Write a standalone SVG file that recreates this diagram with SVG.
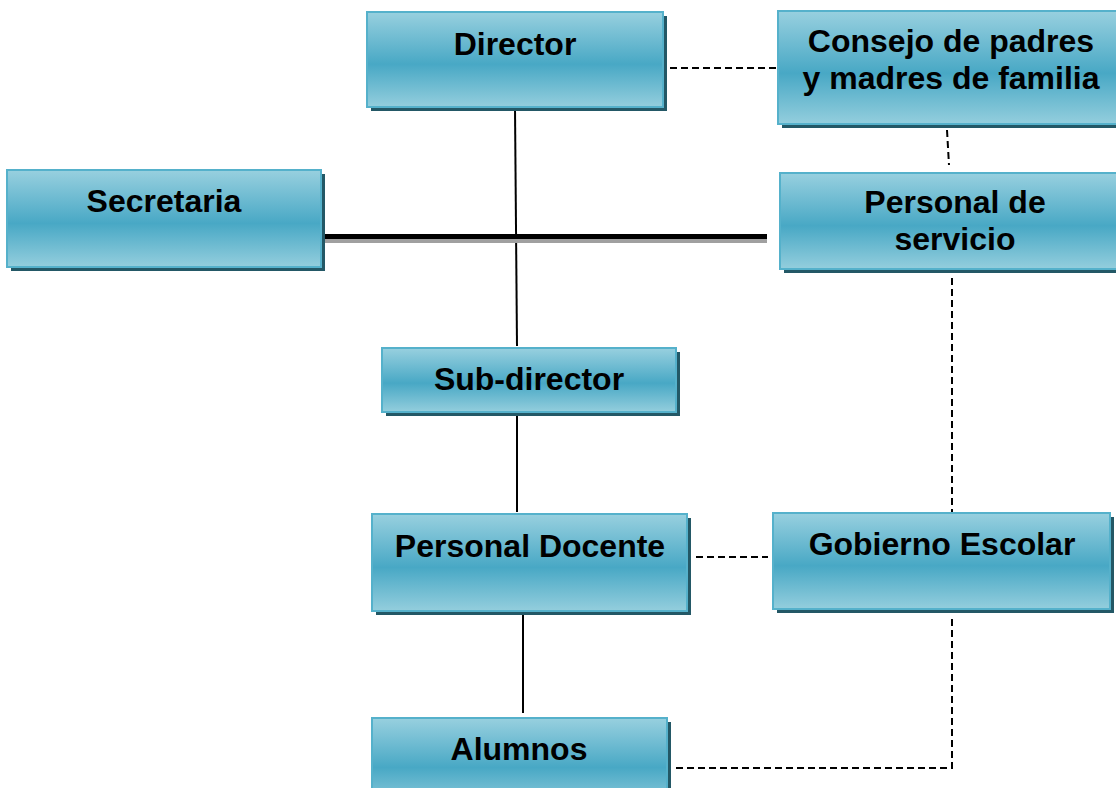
<svg xmlns="http://www.w3.org/2000/svg" width="1116" height="788" viewBox="0 0 1116 788">
<defs>
<linearGradient id="g" x1="0" y1="0" x2="0" y2="1">
<stop offset="0" stop-color="#98d0df"/>
<stop offset="0.55" stop-color="#48a8c5"/>
<stop offset="1" stop-color="#94cedd"/>
</linearGradient>
</defs>
<style>
.sh{fill:#235866}
.bx{fill:url(#g);stroke:#55b1cb;stroke-width:2}
.t{font-family:"Liberation Sans",Arial,sans-serif;font-weight:bold;font-size:32px;fill:#000;text-anchor:middle}
.s{stroke:#000;stroke-width:2;fill:none}
.d{stroke:#000;stroke-width:2;fill:none;stroke-dasharray:7 4}
</style>
<rect width="1116" height="788" fill="#fff"/>
<g id="connectors">
<line class="s" x1="515" y1="108" x2="517" y2="346"/>
<line class="s" x1="517" y1="415" x2="517" y2="512"/>
<line class="s" x1="523" y1="615" x2="523" y2="713"/>
<line x1="325" y1="241" x2="767" y2="241" stroke="#a0a0a0" stroke-width="4"/>
<line x1="325" y1="236.5" x2="767" y2="236.5" stroke="#000" stroke-width="5"/>
<line class="d" x1="670" y1="68" x2="776" y2="68"/>
<line class="d" x1="947" y1="130" x2="949" y2="165"/>
<line class="d" x1="952" y1="278" x2="952" y2="512"/>
<line class="d" x1="696" y1="557" x2="768" y2="557"/>
<polyline class="d" points="676,768 952,768 952,618"/>
</g>
<g id="director">
<rect class="sh" x="371" y="16" width="296" height="95"/>
<rect class="bx" x="367" y="12" width="296" height="95"/>
<text class="t" x="515" y="55">Director</text>
</g>
<g id="consejo">
<rect class="sh" x="782" y="15" width="350" height="113"/>
<rect class="bx" x="778" y="11" width="350" height="113"/>
<text class="t" x="951" y="52">Consejo de padres</text>
<text class="t" x="951" y="89">y madres de familia</text>
</g>
<g id="secretaria">
<rect class="sh" x="11" y="174" width="314" height="97"/>
<rect class="bx" x="7" y="170" width="314" height="97"/>
<text class="t" x="164" y="212">Secretaria</text>
</g>
<g id="personal-servicio">
<rect class="sh" x="784" y="177" width="350" height="96"/>
<rect class="bx" x="780" y="173" width="350" height="96"/>
<text class="t" x="955" y="213">Personal de</text>
<text class="t" x="955" y="250">servicio</text>
</g>
<g id="subdirector">
<rect class="sh" x="386" y="352" width="294" height="64"/>
<rect class="bx" x="382" y="348" width="294" height="64"/>
<text class="t" x="529" y="390">Sub-director</text>
</g>
<g id="personal-docente">
<rect class="sh" x="376" y="518" width="315" height="97"/>
<rect class="bx" x="372" y="514" width="315" height="97"/>
<text class="t" x="530" y="557">Personal Docente</text>
</g>
<g id="gobierno">
<rect class="sh" x="777" y="517" width="337" height="96"/>
<rect class="bx" x="773" y="513" width="337" height="96"/>
<text class="t" x="942" y="555">Gobierno Escolar</text>
</g>
<g id="alumnos">
<rect class="sh" x="376" y="722" width="295" height="90"/>
<rect class="bx" x="372" y="718" width="295" height="90"/>
<text class="t" x="519" y="760">Alumnos</text>
</g>
</svg>
